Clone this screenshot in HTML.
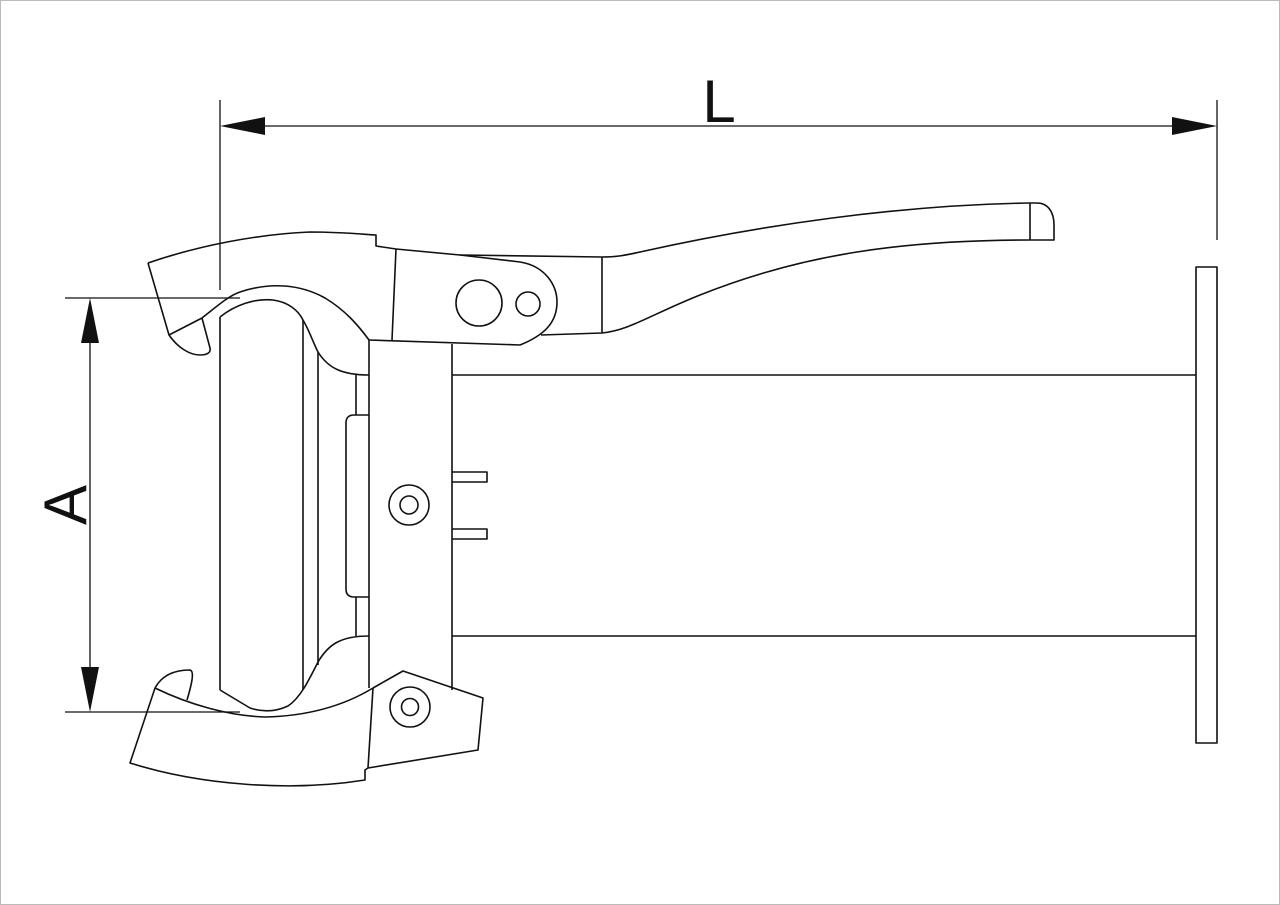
<!DOCTYPE html>
<html><head><meta charset="utf-8"><style>
html,body{margin:0;padding:0;background:#fff;}
svg{display:block;}
</style></head><body>
<svg width="1280" height="905" viewBox="0 0 1280 905" xmlns="http://www.w3.org/2000/svg">
<rect x="0.5" y="0.5" width="1279" height="904" fill="#fff" stroke="#bbb" stroke-width="1"/>
<g fill="none" stroke="#111" stroke-width="1.6" stroke-linejoin="round">
<!-- L dimension -->
<line x1="220" y1="100" x2="220" y2="290" stroke-width="1.3"/>
<line x1="1217" y1="100" x2="1217" y2="240" stroke-width="1.3"/>
<line x1="240" y1="126" x2="1200" y2="126" stroke-width="1.3"/>
<!-- A dimension -->
<line x1="65" y1="298" x2="240" y2="298" stroke-width="1.3"/>
<line x1="65" y1="712" x2="240" y2="712" stroke-width="1.3"/>
<line x1="90" y1="320" x2="90" y2="690" stroke-width="1.3"/>

<!-- pipe and flange -->
<line x1="452" y1="375" x2="1196" y2="375"/>
<line x1="452" y1="636" x2="1196" y2="636"/>
<rect x="1196" y="267" width="21" height="476"/>

<!-- body plate -->
<line x1="369" y1="340" x2="369" y2="688"/>
<line x1="452" y1="344" x2="452" y2="690"/>
<path d="M452 472 H487 V482 H452"/>
<path d="M452 529 H487 V539 H452"/>
<path d="M369 415 H354 Q346 415 346 423 V589 Q346 597 354 597 H369"/>
<line x1="356" y1="375" x2="356" y2="415"/>
<line x1="356" y1="597" x2="356" y2="636"/>
<circle cx="409" cy="505" r="20"/>
<circle cx="409" cy="505" r="9"/>

<!-- inner gasket -->
<path d="M220 317 C235 305 255 298 273 300 C288 302 298 310 303 320 C310 332 312 340 318 352 C328 368 342 375 369 375"/>
<line x1="220" y1="317" x2="220" y2="690"/>
<line x1="303" y1="320" x2="303" y2="690"/>
<line x1="318" y1="352" x2="318" y2="665"/>
<path d="M220 690 L250 708 C262 712 275 712 288 706 C300 698 308 682 318 662 C328 645 340 636 369 636"/>

<!-- upper jaw -->
<path d="M148 263 C200 245 260 234 310 232 C340 232 360 234 376 235 L376 246 L396 249"/>
<path d="M148 263 L169 335 C178 348 190 355 200 355 C208 355 211 352 210 348 L202 318"/>
<line x1="169" y1="335" x2="202" y2="318"/>
<path d="M202 318 C215 308 228 296 240 292 C270 282 300 284 325 298 C345 310 358 325 369 340"/>
<!-- link -->
<path d="M396 249 L460 255 L520 262 C545 266 557 285 557 302 C557 322 545 335 520 345 L369 340"/>
<line x1="396" y1="249" x2="392" y2="340"/>
<circle cx="479" cy="303" r="23"/>
<circle cx="528" cy="304" r="12"/>
<!-- lever handle -->
<path d="M460 255 L602 257 C615 257 622 256 640 252 C760 225 900 205 1030 203 L1037 203 C1048 203 1054 212 1054 225 L1054 240 L1030 240 C900 240 800 255 700 295 C650 315 630 330 602 333 L541 335"/>
<line x1="602" y1="257" x2="602" y2="333"/>
<line x1="1030" y1="203" x2="1030" y2="240"/>

<!-- lower jaw -->
<path d="M155 688 C162 675 175 670 190 670 C194 671 193 680 187 700"/>
<path d="M155 688 C190 705 230 716 265 717 C310 716 345 705 373 688"/>
<path d="M155 688 L130 763 C200 785 290 792 365 780 L365 770 L368 768 L478 750 L483 698 L403 671 L373 688"/>
<line x1="373" y1="688" x2="368" y2="768"/>
<circle cx="410" cy="707" r="20"/>
<circle cx="410" cy="707" r="8.5"/>
</g>
<g fill="#111">
<polygon points="220,126 265,117 265,135"/>
<polygon points="1217,126 1172,117 1172,135"/>
<polygon points="90,298 81,343 99,343"/>
<polygon points="90,712 81,667 99,667"/>
</g>
<text x="719" y="122" text-anchor="middle" font-family="Liberation Sans, sans-serif" font-size="60" fill="#111">L</text>
<text transform="translate(86,505) rotate(-90)" text-anchor="middle" font-family="Liberation Sans, sans-serif" font-size="60" fill="#111">A</text>
</svg>
</body></html>
